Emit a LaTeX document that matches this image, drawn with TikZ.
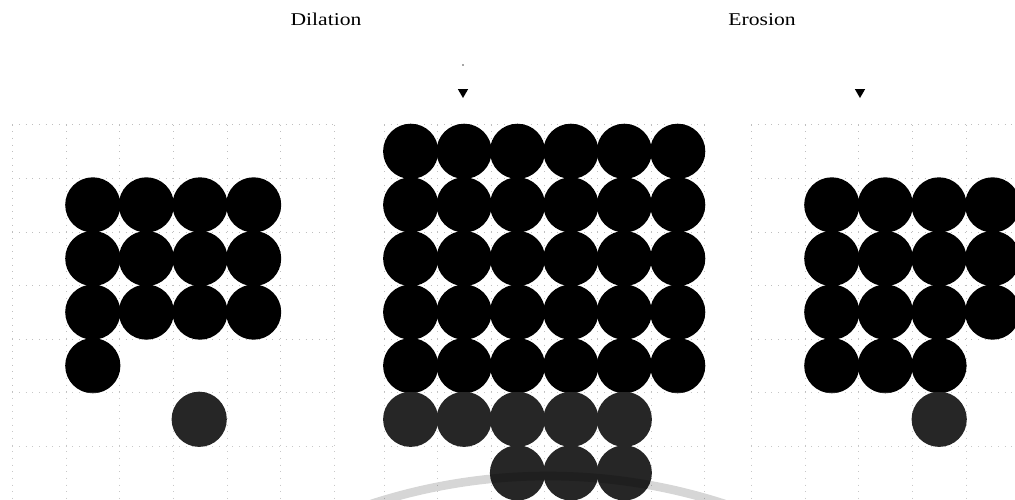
\documentclass[tikz,border=0pt]{standalone}
\usepackage{fontspec}
\setmainfont{Liberation Serif}
\usetikzlibrary{shapes.geometric}

\begin{document}
\begin{tikzpicture}[
  x=0.75pt,y=-0.75pt,
  disc/.style={circle,fill=black,minimum size=41.4pt,inner sep=0pt},
  gridline/.style={gray!50,line width=0.3pt,dash pattern=on 0.5pt off 4.5pt},
  marker/.style={regular polygon,regular polygon sides=3,shape border rotate=180,
                 fill=black,minimum size=9pt,inner sep=0pt},
  title/.style={font=\fontsize{13.5}{16}\selectfont,anchor=base}
]
\useasboundingbox (0,0) rectangle (1015,500);
\fill[white] (0,0) rectangle (1015,500);

% titles and markers
\node[title] (tdil) at (326,25) {\scalebox{1.2}[1]{Dilation}};
\node[title] (tero) at (762,25) {\scalebox{1.2}[1]{Erosion}};
\fill[black!70] (463,65) circle (0.6pt);
\node[marker] (mdil) at (463,92) {};
\node[marker] (mero) at (860,92) {};

% faint grids
\foreach \k in {-1,...,5}
  \draw[gridline] (66+53.6*\k,124.5) -- (66+53.6*\k,500);
\foreach \k in {0,...,7}
  \draw[gridline] (12.4,124.5+53.6*\k) -- (334.4,124.5+53.6*\k);
\foreach \k in {0,...,6}
  \draw[gridline] (384+53.4*\k,124.5) -- (384+53.4*\k,500);
\foreach \k in {0,...,7}
  \draw[gridline] (384,124.5+53.6*\k) -- (704.4,124.5+53.6*\k);
\foreach \k in {-1,...,4}
  \draw[gridline] (805+53.6*\k,124.5) -- (805+53.6*\k,500);
\foreach \k in {0,...,7}
  \draw[gridline] (751.4,124.5+53.6*\k) -- (1015,124.5+53.6*\k);

% left panel
\foreach \r in {2,3,4}
  \foreach \c in {1,...,4}
    \node[disc] (L-\r-\c) at (66+53.6*\c-26.8,124.5+53.6*\r-26.8) {};
\node[disc] (L-5-1) at (92.8,365.7) {};
\node[disc] (L-6-3) at (199.2,419.3) {};

% middle panel
\foreach \r in {1,...,5}
  \foreach \c in {1,...,6}
    \node[disc] (M-\r-\c) at (384+53.4*\c-26.7,124.5+53.6*\r-26.8) {};
\foreach \c in {1,...,5}
  \node[disc] (M-6-\c) at (384+53.4*\c-26.7,419.3) {};
\foreach \c in {3,4,5}
  \node[disc] (M-7-\c) at (384+53.4*\c-26.7,472.9) {};

% right panel
\foreach \r in {2,3,4}
  \foreach \c in {1,...,4}
    \node[disc] (R-\r-\c) at (805+53.6*\c-26.8,124.5+53.6*\r-26.8) {};
\foreach \c in {1,2,3}
  \node[disc] (R-5-\c) at (805+53.6*\c-26.8,365.7) {};
\node[disc] (R-6-3) at (939.2,419.3) {};

% lighter lower band and watermark arc
\fill[white,opacity=0.15] (0,391.7) rectangle (1015,500);
\draw[black,opacity=0.16,line width=6.5pt]
  (371.2,504) arc[start angle=-108,end angle=-72,radius=572];
\end{tikzpicture}
\end{document}
